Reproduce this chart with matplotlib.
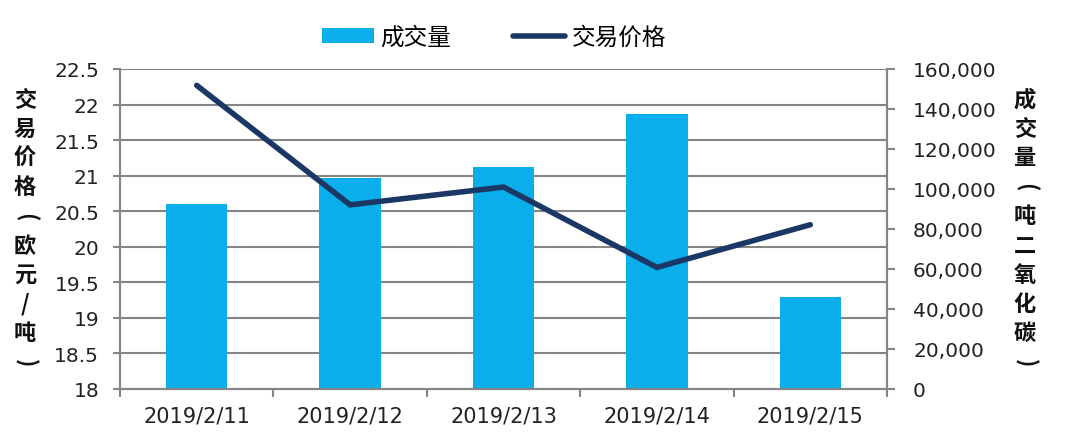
import matplotlib
matplotlib.use("Agg")
import matplotlib.pyplot as plt
import numpy as np
from matplotlib.ticker import FuncFormatter, MultipleLocator, FixedLocator
from matplotlib.patches import Patch
from matplotlib.lines import Line2D

plt.rcParams['font.family'] = ['DejaVu Sans', 'Noto Sans CJK SC']

categories = ["2019/2/11", "2019/2/12", "2019/2/13", "2019/2/14", "2019/2/15"]
volume = [92500, 105300, 110800, 137500, 45800]
price = [22.27, 20.59, 20.84, 19.71, 20.31]
left_label = ["交", "易", "价", "格", "(", "欧", "元", "/", "吨", ")"]
right_label = ["成", "交", "量", "(", "吨", "二", "氧", "化", "碳", ")"]

bar_color = '#0AAEEA'
line_color = '#1B3766'
grey = '#858585'
cjk = ['Noto Sans CJK SC', 'DejaVu Sans']

fig = plt.figure(figsize=(10.8, 4.39), dpi=100)
ax = fig.add_axes([120/1080, 49/439, 767/1080, 320/439])
ax2 = ax.twinx()

x = np.arange(len(categories))

# bars on right axis
ax2.bar(x, volume, width=0.40, color=bar_color, zorder=2)
ax2.set_ylim(0, 160000)
ax2.yaxis.set_major_locator(MultipleLocator(20000))
ax2.yaxis.set_major_formatter(FuncFormatter(lambda v, p: f"{int(v):,}"))

# line on left axis, drawn above bars
ax.set_zorder(ax2.get_zorder() + 1)
ax.patch.set_visible(False)
ax.plot(x, price, color=line_color, lw=4, solid_capstyle='round', solid_joinstyle='miter', zorder=3)
ax.set_ylim(18, 22.5)
ax.yaxis.set_major_locator(MultipleLocator(0.5))
ax.yaxis.set_major_formatter(FuncFormatter(lambda v, p: f"{v:g}"))
ax.set_xlim(-0.5, len(categories) - 0.5)

# horizontal gridlines at the left-axis ticks, under the bars
for v in ax.get_yticks():
    if 18 < v <= 22.5:
        ax2.axhline((v - 18) / 4.5 * 160000, color=grey, lw=1.5, zorder=1)

for a in (ax, ax2):
    for s in a.spines.values():
        s.set_color(grey)
        s.set_linewidth(1.5)
    a.spines['top'].set_visible(False)

ax.set_xticks(x)
ax.set_xticklabels(categories)
ax.xaxis.set_minor_locator(FixedLocator(np.arange(-0.5, len(categories), 1.0)))
ax.tick_params(axis='x', which='major', length=0, pad=12, labelsize=15, colors='#222222')
ax.tick_params(axis='x', which='minor', length=5.8, width=1.5, color=grey)
ax.tick_params(axis='y', length=5, width=1.5, color=grey, pad=10, labelsize=14.5, labelcolor='#222222')
ax2.tick_params(axis='y', length=5.8, width=1.5, color=grey, pad=13, labelsize=14.5, labelcolor='#222222')

# vertical axis titles
def vtitle(xpx, chars):
    for i, ch in enumerate(chars):
        rot = -90 if ch in "()" else 0
        fig.text(xpx/1080, 1 - (100 + i * 29.2) / 439, ch, ha='center', va='center',
                 rotation=rot, fontsize=16, fontweight='bold', family=cjk, color='#111111')

vtitle(25, left_label)
vtitle(1025, right_label)

# legend
handles = [Patch(facecolor=bar_color, edgecolor='none', label='成交量'),
           Line2D([0], [0], color=line_color, lw=4, solid_capstyle='round', label='交易价格')]
fig.legend(handles=handles, loc='center', bbox_to_anchor=(494/1080, 1 - 38/439), ncol=2,
           frameon=False, prop={'family': cjk, 'size': 17},
           handlelength=2.2, handleheight=0.6, handletextpad=0.3, columnspacing=2.6)

fig.savefig("out.png", dpi=100, facecolor='white')
